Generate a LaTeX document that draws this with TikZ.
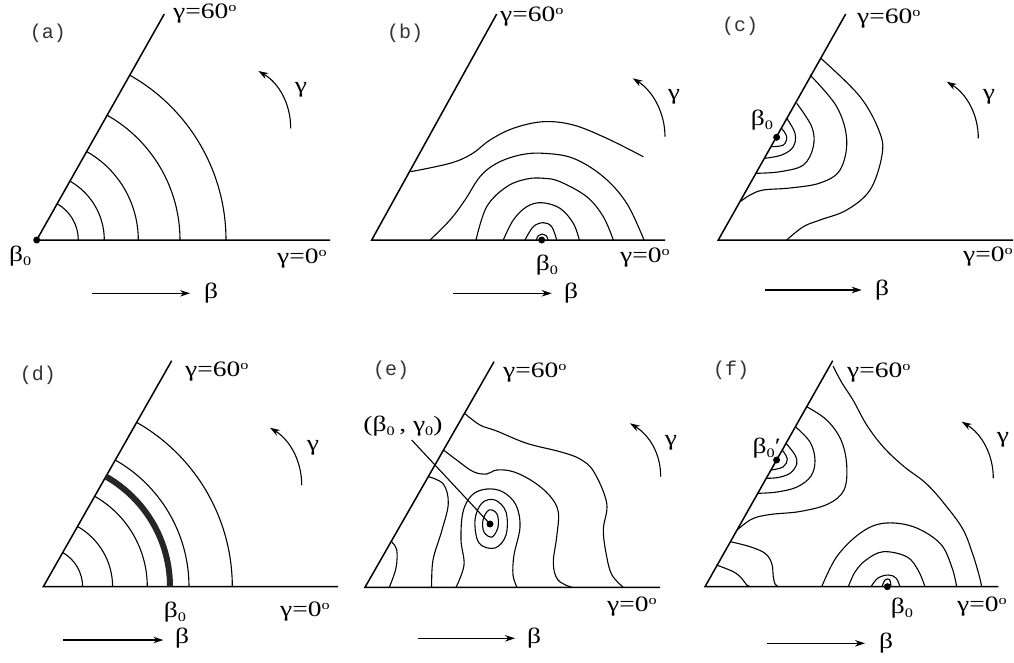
\documentclass[tikz,border=0pt]{standalone}
\usepackage{fontspec}
\setmainfont{Liberation Serif}
\newfontfamily\monof{Liberation Mono}
\newfontfamily\labf{Liberation Serif}
\usetikzlibrary{arrows.meta}
\newcommand{\zsub}[1]{\raisebox{-0.45ex}{\fontsize{13}{13}\selectfont #1}}
\newcommand{\degs}{\raisebox{0.75ex}{\fontsize{13}{13}\selectfont o}}
\newcommand{\widen}[1]{\scalebox{1.25}[1]{#1}}
\begin{document}
\begin{tikzpicture}[x=1pt,y=-1pt,
  axisline/.style={line width=1.5pt},
  cont/.style={line width=1.1pt},
  thickarc/.style={line width=6pt, black!85},
  lab/.style={inner sep=0pt, font=\labf\fontsize{22}{24}\selectfont},
  plab/.style={inner sep=0pt, font=\monof\fontsize{20}{22}\selectfont, text=black!80},
  dotn/.style={circle, fill=black, inner sep=0pt, minimum size=7pt},
  barrow/.style={line width=1.1pt, -{Stealth[length=10pt,width=6.5pt]}},
  sm/.style={smooth, tension=0.6}]
\useasboundingbox (0,0) rectangle (1014,662);

%% ---------------- (a) ----------------
\coordinate (aO) at (36.7,240); \coordinate (aT) at (164.3,14); \coordinate (aE) at (330,240);
\draw[axisline] (aE) -- (aO) -- (aT);
\foreach \r in {41.6,67.6,101.6,143.3,189.3}
  \draw[cont] ([xshift=\r pt]aO) arc[start angle=0, end angle=60.5, radius=\r pt];
\node[dotn] (aD) at (aO) {};
\node[plab] (aL) at (48,33) {(a)};
\node[lab,anchor=west] (aG6) at (173,14) {\widen{γ=60\degs}};
\node[lab,anchor=west] (aG0) at (277,259) {\widen{γ=0\degs}};
\node[lab,anchor=west] (aB0) at (9,256) {\widen{β\zsub{0}}};
\coordinate (aBs) at (91.7,293.3); \coordinate (aBe) at (190,293.3);
\draw[barrow] (aBs) -- (aBe);
\node[lab] (aB) at (211,293) {\widen{β}};
\coordinate (aGs) at (290.7,128.3); \coordinate (aGe) at (258.3,71);
\draw[barrow] (aGs) .. controls (290.7,104) and (279,83) .. (aGe);
\node[lab] (aG) at (301,90) {\widen{γ}};

%% ---------------- (b) ----------------
\coordinate (bO) at (371.7,240); \coordinate (bT) at (496.7,14); \coordinate (bE) at (665,240);
\draw[axisline] (bE) -- (bO) -- (bT);
\draw[cont] (536.5,240) .. controls (537.5,232) and (547,232) .. (548,240);
\draw[cont] plot[sm] coordinates {(525,240) (533.3,226.7) (543.3,222.7) (551.7,226.7) (556.7,240)};
\draw[cont] plot[sm] coordinates {(503.3,240) (513.3,220) (526.7,206.7) (541.7,202.7) (560,208.3) (573.3,223.3) (579.3,240)};
\draw[cont] plot[sm] coordinates {(476,240) (486.7,206.7) (506.7,186.7) (526.7,179) (544,178.3) (560,181.7) (586.7,196.7) (603.3,216.7) (613.3,240)};
\draw[cont] plot[sm] coordinates {(430,240) (450,220) (465,200) (480,176.7) (496.7,163.3) (520,155) (543.3,153.3) (573.3,158.3) (603.3,176.7) (626.7,203.3) (644,240)};
\draw[cont] plot[sm] coordinates {(410.5,171.7) (450,163.3) (471.7,154) (490,140) (513.3,128.3) (543.3,121.7) (573.3,125) (606.7,138.3) (643.3,156.7)};
\node[dotn] (bD) at (541.7,240) {};
\node[plab] (bL) at (405,33) {(b)};
\node[lab,anchor=west] (bG6) at (500,17) {\widen{γ=60\degs}};
\node[lab,anchor=west] (bG0) at (620,258) {\widen{γ=0\degs}};
\node[lab] (bB0) at (547,265) {\widen{β\zsub{0}}};
\coordinate (bBs) at (453.3,293.3); \coordinate (bBe) at (551.7,293.3);
\draw[barrow] (bBs) -- (bBe);
\node[lab] (bB) at (571,293) {\widen{β}};
\coordinate (bGs) at (665,136.7); \coordinate (bGe) at (632.7,78.3);
\draw[barrow] (bGs) .. controls (665,113) and (653,91) .. (bGe);
\node[lab] (bG) at (674,97) {\widen{γ}};

%% ---------------- (c) ----------------
\coordinate (cO) at (718.3,240); \coordinate (cT) at (845.7,14); \coordinate (cE) at (1013,240);
\draw[axisline] (cE) -- (cO) -- (cT);
\draw[cont] plot[sm] coordinates {(781.5,128.3) (786.7,136.7) (783.3,145) (771.1,146.7)};
\draw[cont] plot[sm] coordinates {(786.7,118.3) (795,133.3) (793.3,146.7) (781.7,155) (764.6,158.3)};
\draw[cont] plot[sm] coordinates {(796.7,103.3) (811.7,126.7) (813.3,146.7) (803.3,165) (780,171.7) (756.2,173.3)};
\draw[cont] plot[sm] coordinates {(810,75) (836.7,106.7) (846.7,140) (840,170) (820,183) (790,188) (763.3,190) (750,195) (740.2,201.7)};
\draw[cont] plot[sm] coordinates {(820.8,58.3) (860,96.7) (880,133.3) (881.7,156.7) (870,190) (846.7,210) (820,220) (803.3,226.7) (786.7,240)};
\node[dotn] (cD) at (776.6,137.3) {};
\node[plab] (cL) at (740,26) {(c)};
\node[lab,anchor=west] (cG6) at (857,19) {\widen{γ=60\degs}};
\node[lab,anchor=west] (cG0) at (963,257) {\widen{γ=0\degs}};
\node[lab] (cB0) at (762,120) {\widen{β\zsub{0}}};
\coordinate (cBs) at (765,290); \coordinate (cBe) at (861.7,290);
\draw[barrow] (cBs) -- (cBe);
\node[lab] (cB) at (882,290) {\widen{β}};
\coordinate (cGs) at (978.3,138.3); \coordinate (cGe) at (946.7,81.7);
\draw[barrow] (cGs) .. controls (978.3,115) and (967,94) .. (cGe);
\node[lab] (cG) at (989,97) {\widen{γ}};

%% ---------------- (d) ----------------
\coordinate (dO) at (43.3,586.7); \coordinate (dT) at (171.7,360.7); \coordinate (dE) at (338,586.7);
\draw[axisline] (dE) -- (dO) -- (dT);
\foreach \r in {39.3,69.3,104,145.7,189}
  \draw[cont] ([xshift=\r pt]dO) arc[start angle=0, end angle=60.4, radius=\r pt];
\draw[thickarc] ([xshift=126.7pt]dO) arc[start angle=0, end angle=60.4, radius=126.7pt];
\node[plab] (dL) at (38,375) {(d)};
\node[lab,anchor=west] (dG6) at (185,372) {\widen{γ=60\degs}};
\node[lab,anchor=west] (dG0) at (280,612) {\widen{γ=0\degs}};
\node[lab] (dB0) at (175,612) {\widen{β\zsub{0}}};
\coordinate (dBs) at (63.3,640); \coordinate (dBe) at (163.3,640);
\draw[barrow] (dBs) -- (dBe);
\node[lab] (dB) at (182,638) {\widen{β}};
\coordinate (dGs) at (301.7,485); \coordinate (dGe) at (270,427.7);
\draw[barrow] (dGs) .. controls (301.7,461) and (290,440) .. (dGe);
\node[lab] (dG) at (313,448) {\widen{γ}};

%% ---------------- (e) ----------------
\coordinate (eO) at (365,587.3); \coordinate (eT) at (494,361.7); \coordinate (eE) at (660,587.3);
\draw[axisline] (eE) -- (eO) -- (eT);
\draw[cont] plot[sm] coordinates {(391.5,541.7) (396.7,550) (396,568) (389.3,587.3)};
\draw[cont] plot[sm] coordinates {(428.5,476.7) (443.3,484) (448.3,503.3) (442,530) (433,560) (431.7,587.3)};
\draw[cont] plot[sm] coordinates {(456,587.3) (464,565) (461,540) (463,512) (472,495) (487,489) (503,492) (516,505) (520,527) (514,555) (513,575) (517,587.3)};
\draw[cont] plot[sm] coordinates {(443.5,450) (456.7,460) (473.3,471.7) (486.7,474) (496.7,470) (513.3,471.7) (533.3,481.7) (550,496) (558.3,512) (556.7,536.7) (553.3,563.3) (558,580) (571.7,587.3)};
\draw[cont] plot[sm] coordinates {(464.5,413.3) (480,425) (496.7,431) (526.7,443.3) (560,451.7) (580,459) (594,472) (606.7,503.3) (603.3,530) (606.7,556.7) (612,575) (623.3,587.3)};
\draw[cont] plot[smooth cycle, tension=0.6] coordinates {(483,520) (489,510) (497,514) (498,527) (492,537) (484,532)};
\draw[cont] plot[smooth cycle, tension=0.6] coordinates {(475,520) (482,503) (495,500) (506,512) (506,535) (495,548) (479,543)};
\node[dotn] (eD) at (490,524) {};
\node[plab] (eL) at (391,370) {(e)};
\node[lab,anchor=west] (eG6) at (503,373) {\widen{γ=60\degs}};
\node[lab,anchor=west] (eG0) at (607,607) {\widen{γ=0\degs}};
\node[lab] (eP) at (403,426) {\widen{(β\zsub{0}\,, γ\zsub{0})}};
\coordinate (eLs) at (411.7,440);
\draw[cont] (eLs) -- (eD.center);
\coordinate (eBs) at (418.3,638.3); \coordinate (eBe) at (515,638.3);
\draw[barrow] (eBs) -- (eBe);
\node[lab] (eB) at (534,638) {\widen{β}};
\coordinate (eGs) at (660.7,476.7); \coordinate (eGe) at (630,423.3);
\draw[barrow] (eGs) .. controls (660.7,453) and (649,435) .. (eGe);
\node[lab] (eG) at (671,443) {\widen{γ}};

%% ---------------- (f) ----------------
\coordinate (fO) at (705,586.7); \coordinate (fT) at (832.7,360.7); \coordinate (fE) at (998.3,586.7);
\draw[axisline] (fE) -- (fO) -- (fT);
\draw[cont] plot[sm] coordinates {(833,366) (842,383) (853,400) (866.7,425) (883.3,447) (903.3,466) (926.7,484) (946.7,506.7) (963.3,530) (973,555) (979,575) (981.7,586.7)};
\draw[cont] plot[sm] coordinates {(882,586.7) (885,580) (889.5,579.5) (891,586.7)};
\draw[cont] plot[sm] coordinates {(871,586.7) (878,578) (888.3,575) (896,578) (900,586.7)};
\draw[cont] plot[sm] coordinates {(848.3,586.7) (855,572) (866,560) (883.3,551.7) (906.7,556.7) (918,570) (925,586.7)};
\draw[cont] plot[sm] coordinates {(821.7,586.7) (836.7,556.7) (860,533.3) (883.3,523.3) (913.3,526.7) (940,543.3) (951.7,566.7) (956.7,586.7)};
\draw[cont] plot[sm] coordinates {(782.2,450) (787.3,459) (783,467) (770.9,470)};
\draw[cont] plot[sm] coordinates {(786,443.3) (795,455) (796.7,464) (790,473.3) (778,477.5) (766.2,478.3)};
\draw[cont] plot[sm] coordinates {(795.4,426.7) (810,442) (815,460) (811,476) (797,487) (777,492) (757.8,493.3)};
\draw[cont] plot[sm] coordinates {(806.7,406.7) (826.7,420) (841,440) (846.7,465) (844,490) (828,504) (800,511.5) (770,514.5) (752,519) (737,530)};
\draw[cont] plot[sm] coordinates {(716.5,565) (733.3,571.7) (741.7,578.3) (746.7,585) (751,586.7)};
\draw[cont] plot[sm] coordinates {(730.4,541.7) (750,546.7) (765,553.3) (771.7,563.3) (773.3,576.7) (775,584) (778.3,586.7)};
\node[dotn] (fD1) at (776.6,460) {};
\node[dotn] (fD0) at (887.3,586.7) {};
\node[plab] (fL) at (731,370) {(f)};
\node[lab,anchor=west] (fG6) at (847,373) {\widen{γ=60\degs}};
\node[lab,anchor=west] (fG0) at (957,607) {\widen{γ=0\degs}};
\node[lab,anchor=east] (fB1) at (781,448) {\widen{β\zsub{0}′}};
\node[lab] (fB0) at (902,608) {\widen{β\zsub{0}}};
\coordinate (fBs) at (766.7,643.3); \coordinate (fBe) at (865,643.3);
\draw[barrow] (fBs) -- (fBe);
\node[lab] (fB) at (886,643) {\widen{β}};
\coordinate (fGs) at (993.3,478.3); \coordinate (fGe) at (961.7,421.7);
\draw[barrow] (fGs) .. controls (993.3,455) and (982,434) .. (fGe);
\node[lab] (fG) at (1003,440) {\widen{γ}};
\end{tikzpicture}
\end{document}
